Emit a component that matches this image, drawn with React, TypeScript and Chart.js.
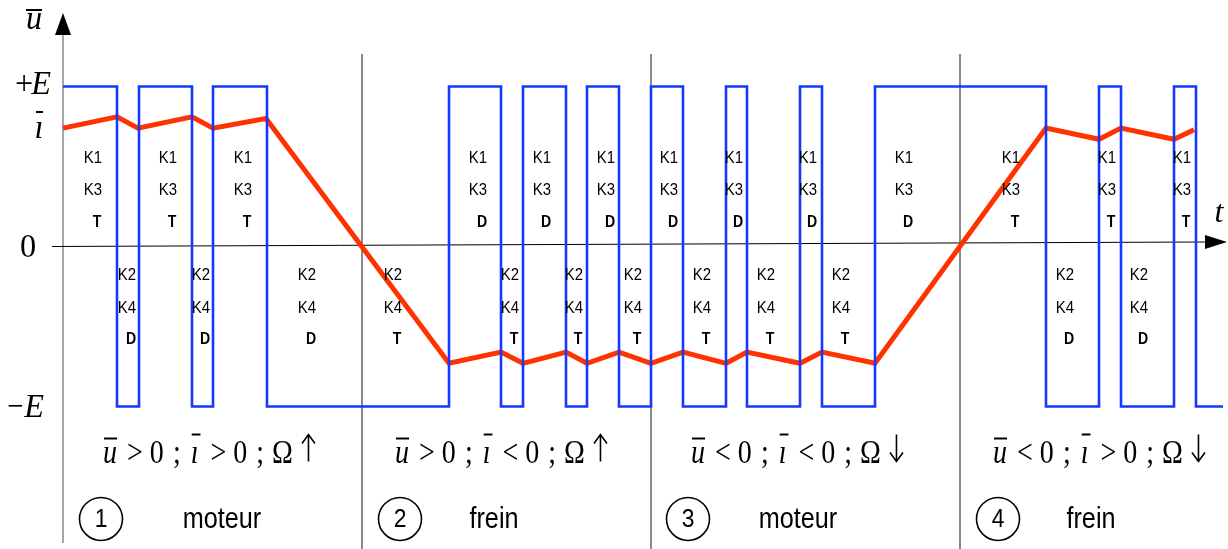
import React, { useEffect, useRef } from "react";
import { Chart, registerables } from "chart.js";

Chart.register(...registerables);

// ---- data -------------------------------------------------------------
// Chopper output voltage ū (in units of E): starts at +E, flips sign at each switching instant
const uStartTime = 0;
const uEndTime = 116.0;
const uFirstLevel = 1;
const uSwitchTimes = [
  5.4, 7.6, 12.9, 15.0, 20.4, 38.6, 43.8, 46.0, 50.3, 52.4, 55.6, 58.8,
  62.0, 66.3, 68.4, 73.7, 75.9, 81.2, 98.3, 103.6, 105.8, 111.1, 113.3,
];

// Mean current ī (same vertical units)
const iTimes = [
  0, 5.4, 7.5, 12.9, 15.0, 20.3, 38.6, 43.8, 46.0, 50.3, 52.4, 55.6, 58.8,
  62.0, 66.3, 68.4, 73.7, 75.9, 81.2, 98.3, 103.6, 105.8, 111.1, 113.1,
];
const iValues = [
  0.74, 0.81, 0.74, 0.81, 0.74, 0.8, -0.73, -0.66, -0.73, -0.66, -0.73, -0.66,
  -0.73, -0.66, -0.73, -0.66, -0.73, -0.66, -0.73, 0.74, 0.67, 0.74, 0.67, 0.73,
];

// Boundaries between the four operating quadrants
const quadrantBounds = [29.9, 58.8, 89.7];

// Conducting components during the high (K1 K3) and low (K2 K4) phases
const upperTimes = [3.0, 10.5, 18.0, 41.5, 47.9, 54.3, 60.6, 67.1, 74.5, 84.1, 94.8, 104.4, 111.9];
const upperKinds = ["T", "T", "T", "D", "D", "D", "D", "D", "D", "D", "T", "T", "T"];
const lowerTimes = [6.4, 13.8, 24.4, 33.0, 44.7, 51.1, 57.0, 63.9, 70.3, 77.8, 100.2, 107.6];
const lowerKinds = ["D", "D", "D", "T", "T", "T", "T", "T", "T", "T", "D", "D"];

const quadrantNumbers = ["1", "2", "3", "4"];
const quadrantModes = ["moteur", "frein", "moteur", "frein"];
const uSigns = [">", ">", "<", "<"];
const iSigns = [">", "<", "<", ">"];
const speedUp = [true, true, false, false];

// ---- layout -----------------------------------------------------------
const X_MIN = -6.3;
const X_MAX = 116.5;
const Y_MIN = -1.8906;
const Y_MAX = 1.5406;
const formulaCenters = [14.6, 43.8, 73.4, 103.6];
const circleCenters = [3.8, 33.7, 62.5, 93.5];
const modeCenters = [15.9, 43.1, 73.5, 102.8];
const upperRows = [0.553, 0.35, 0.149];
const lowerRows = [-0.178, -0.386, -0.58];

const SANS = '"Liberation Sans", Arial, sans-serif';
const SERIF = '"Liberation Serif", "Times New Roman", serif';
const SQUEEZE = 0.88;
const BLUE = "#1438ff";
const RED = "#ff3300";
const GREY = "#8a8a8a";

function squeezedText(
  ctx: CanvasRenderingContext2D,
  str: string,
  x: number,
  y: number,
  font: string,
  align: CanvasTextAlign = "center",
  baseline: CanvasTextBaseline = "middle",
  sx: number = SQUEEZE
) {
  ctx.save();
  ctx.font = font;
  ctx.textAlign = align;
  ctx.textBaseline = baseline;
  ctx.translate(x, y);
  ctx.scale(sx, 1);
  ctx.fillText(str, 0, 0);
  ctx.restore();
}

function textWidth(ctx: CanvasRenderingContext2D, str: string, font: string, sx: number = SQUEEZE) {
  ctx.save();
  ctx.font = font;
  const w = ctx.measureText(str).width * sx;
  ctx.restore();
  return w;
}

function bar(ctx: CanvasRenderingContext2D, x0: number, x1: number, y: number) {
  ctx.save();
  ctx.strokeStyle = "#000";
  ctx.lineWidth = 2;
  ctx.beginPath();
  ctx.moveTo(x0, y);
  ctx.lineTo(x1, y);
  ctx.stroke();
  ctx.restore();
}

// thin vertical arrow (Ω ↑ / Ω ↓)
function speedArrow(ctx: CanvasRenderingContext2D, x: number, baseY: number, up: boolean) {
  const top = baseY - 28;
  const bot = baseY - 1;
  const cx = x + 6.5;
  ctx.save();
  ctx.strokeStyle = "#000";
  ctx.lineWidth = 1.6;
  ctx.beginPath();
  ctx.moveTo(cx, top);
  ctx.lineTo(cx, bot);
  const tip = up ? top : bot;
  const dir = up ? 1 : -1;
  ctx.moveTo(cx - 6.5, tip + dir * 9);
  ctx.lineTo(cx, tip);
  ctx.lineTo(cx + 6.5, tip + dir * 9);
  ctx.stroke();
  ctx.restore();
}

// ū > 0 ; ī > 0 ; Ω ↑   (drawn token by token with wide spacing)
function drawFormula(ctx: CanvasRenderingContext2D, cx: number, baseY: number, q: number) {
  const reg = `33px ${SERIF}`;
  const ita = `italic 33px ${SERIF}`;
  const sx = 0.85;
  const tokens = [
    { s: "u", f: ita, b: "u", gap: 10 },
    { s: uSigns[q], f: reg, b: "", gap: 7 },
    { s: "0", f: reg, b: "", gap: 9 },
    { s: ";", f: reg, b: "", gap: 10 },
    { s: "\u0131", f: ita, b: "i", gap: 12 },
    { s: iSigns[q], f: reg, b: "", gap: 7 },
    { s: "0", f: reg, b: "", gap: 9 },
    { s: ";", f: reg, b: "", gap: 8 },
    { s: "\u03A9", f: reg, b: "", gap: 9 },
  ];
  const arrowW = 13;
  const widths = tokens.map((p) => textWidth(ctx, p.s, p.f, sx));
  const total = tokens.reduce((a, p, k) => a + widths[k] + p.gap, 0) + arrowW;
  let x = cx - total / 2;
  ctx.fillStyle = "#000";
  tokens.forEach((p, k) => {
    squeezedText(ctx, p.s, x, baseY, p.f, "left", "alphabetic", sx);
    if (p.b === "u") bar(ctx, x + 1, x + widths[k], baseY - 24);
    if (p.b === "i") bar(ctx, x + 1, x + widths[k] + 2, baseY - 28);
    x += widths[k] + p.gap;
  });
  speedArrow(ctx, x, baseY, speedUp[q]);
}

const diagramPlugin = {
  id: "chopperDiagram",
  beforeDatasetsDraw(chart: any) {
    const { ctx, scales } = chart;
    const xs = scales.x;
    const ys = scales.y;
    const x0 = xs.getPixelForValue(0);
    const bottom = chart.height;
    ctx.save();
    // quadrant separators
    ctx.strokeStyle = GREY;
    ctx.lineWidth = 2;
    quadrantBounds.forEach((t) => {
      const px = xs.getPixelForValue(t);
      ctx.beginPath();
      ctx.moveTo(px, 54);
      ctx.lineTo(px, bottom);
      ctx.stroke();
    });
    // vertical axis
    ctx.lineWidth = 1.5;
    ctx.beginPath();
    ctx.moveTo(x0, 34);
    ctx.lineTo(x0, bottom - 6);
    ctx.stroke();
    ctx.fillStyle = "#000";
    ctx.beginPath();
    ctx.moveTo(x0, 13);
    ctx.lineTo(x0 - 8, 35);
    ctx.lineTo(x0 + 8, 35);
    ctx.closePath();
    ctx.fill();
    // time axis with arrow
    const yA = ys.getPixelForValue(0);
    const tipX = xs.getPixelForValue(X_MAX) - 1;
    ctx.strokeStyle = "#000";
    ctx.lineWidth = 1;
    ctx.beginPath();
    ctx.moveTo(x0 - 11, yA);
    ctx.lineTo(tipX - 20, yA - 4.5);
    ctx.stroke();
    ctx.beginPath();
    ctx.moveTo(tipX, yA - 4.5);
    ctx.lineTo(tipX - 22, yA - 11.5);
    ctx.lineTo(tipX - 22, yA + 2.5);
    ctx.closePath();
    ctx.fill();
    ctx.restore();
  },
  afterDatasetsDraw(chart: any) {
    const { ctx, scales } = chart;
    const xs = scales.x;
    const ys = scales.y;
    const x0 = xs.getPixelForValue(0);
    ctx.save();
    ctx.fillStyle = "#000";

    // component labels
    const kFont = `17px ${SANS}`;
    const bFont = `bold 16px ${SANS}`;
    upperTimes.forEach((t, k) => {
      const px = xs.getPixelForValue(t);
      squeezedText(ctx, "K1", px, ys.getPixelForValue(upperRows[0]), kFont);
      squeezedText(ctx, "K3", px, ys.getPixelForValue(upperRows[1]), kFont);
      squeezedText(ctx, upperKinds[k], px + 4, ys.getPixelForValue(upperRows[2]), bFont);
    });
    lowerTimes.forEach((t, k) => {
      const px = xs.getPixelForValue(t);
      squeezedText(ctx, "K2", px, ys.getPixelForValue(lowerRows[0]), kFont);
      squeezedText(ctx, "K4", px, ys.getPixelForValue(lowerRows[1]), kFont);
      squeezedText(ctx, lowerKinds[k], px + 4, ys.getPixelForValue(lowerRows[2]), bFont);
    });

    // axis labels
    const reg = `34px ${SERIF}`;
    const ita = `italic 34px ${SERIF}`;
    const yPlus = ys.getPixelForValue(1);
    const yMinus = ys.getPixelForValue(-1);
    const yZero = ys.getPixelForValue(0);
    // ū
    squeezedText(ctx, "u", x0 - 29, 29, ita, "center", "alphabetic", 0.95);
    bar(ctx, x0 - 37, x0 - 21, 10);
    // +E
    const wE = textWidth(ctx, "E", ita, 0.95);
    squeezedText(ctx, "E", x0 - 12, yPlus + 8, ita, "right", "alphabetic", 0.95);
    squeezedText(ctx, "+", x0 - 12 - wE + 2, yPlus + 8, reg, "right", "alphabetic", 0.95);
    // ī
    squeezedText(ctx, "\u0131", x0 - 24, ys.getPixelForValue(iValues[0]) + 10, ita, "center", "alphabetic", 0.95);
    bar(ctx, x0 - 27, x0 - 20, 112);
    // 0
    squeezedText(ctx, "0", x0 - 35, yZero + 11, reg, "center", "alphabetic", 0.95);
    // −E
    squeezedText(ctx, "E", x0 - 19, yMinus + 10, ita, "right", "alphabetic", 0.95);
    squeezedText(ctx, "\u2212", x0 - 19 - wE - 1, yMinus + 10, reg, "right", "alphabetic", 0.85);
    // t
    squeezedText(ctx, "t", xs.getPixelForValue(X_MAX) - 9, yZero - 24, `italic 32px ${SERIF}`, "center", "alphabetic", 1);

    // quadrant captions
    const rowF = ys.getPixelForValue(-1.35);
    const rowC = ys.getPixelForValue(-1.703);
    quadrantNumbers.forEach((n, q) => {
      drawFormula(ctx, xs.getPixelForValue(formulaCenters[q]), rowF, q);
      const cx = xs.getPixelForValue(circleCenters[q]);
      ctx.strokeStyle = "#000";
      ctx.lineWidth = 1.6;
      ctx.beginPath();
      ctx.arc(cx, rowC, 21.5, 0, Math.PI * 2);
      ctx.stroke();
      squeezedText(ctx, n, cx, rowC + 1, `26px ${SANS}`);
      squeezedText(ctx, quadrantModes[q], xs.getPixelForValue(modeCenters[q]), rowC + 1, `29px ${SANS}`, "center", "middle", 0.87);
    });
    ctx.restore();
  },
};

function buildVoltagePoints() {
  let level = uFirstLevel;
  const pts = [{ x: uStartTime, y: level }];
  uSwitchTimes.forEach((t) => {
    pts.push({ x: t, y: level });
    level = -level;
    pts.push({ x: t, y: level });
  });
  pts.push({ x: uEndTime, y: level });
  return pts;
}

export default function App() {
  const canvasRef = useRef<HTMLCanvasElement | null>(null);

  useEffect(() => {
    const canvas = canvasRef.current;
    if (!canvas) return;
    const chart = new Chart(canvas, {
      type: "line",
      data: {
        datasets: [
          {
            label: "ū",
            data: buildVoltagePoints(),
            borderColor: BLUE,
            borderWidth: 2.6,
            pointRadius: 0,
            tension: 0,
            fill: false,
            borderJoinStyle: "miter",
          },
          {
            label: "ī",
            data: iTimes.map((t, k) => ({ x: t, y: iValues[k] })),
            borderColor: RED,
            borderWidth: 5,
            pointRadius: 0,
            tension: 0,
            fill: false,
            borderJoinStyle: "miter",
          },
        ],
      },
      options: {
        responsive: false,
        animation: false,
        layout: { padding: 0 },
        scales: {
          x: { type: "linear", min: X_MIN, max: X_MAX, display: false },
          y: { type: "linear", min: Y_MIN, max: Y_MAX, display: false },
        },
        plugins: {
          legend: { display: false },
          tooltip: { enabled: false },
        },
        events: [],
      },
      plugins: [diagramPlugin],
    });
    return () => chart.destroy();
  }, []);

  return (
    <div style={{ position: "fixed", left: 0, top: 0, width: 1228, height: 549, background: "#fff" }}>
      <canvas ref={canvasRef} width={1228} height={549} />
    </div>
  );
}
